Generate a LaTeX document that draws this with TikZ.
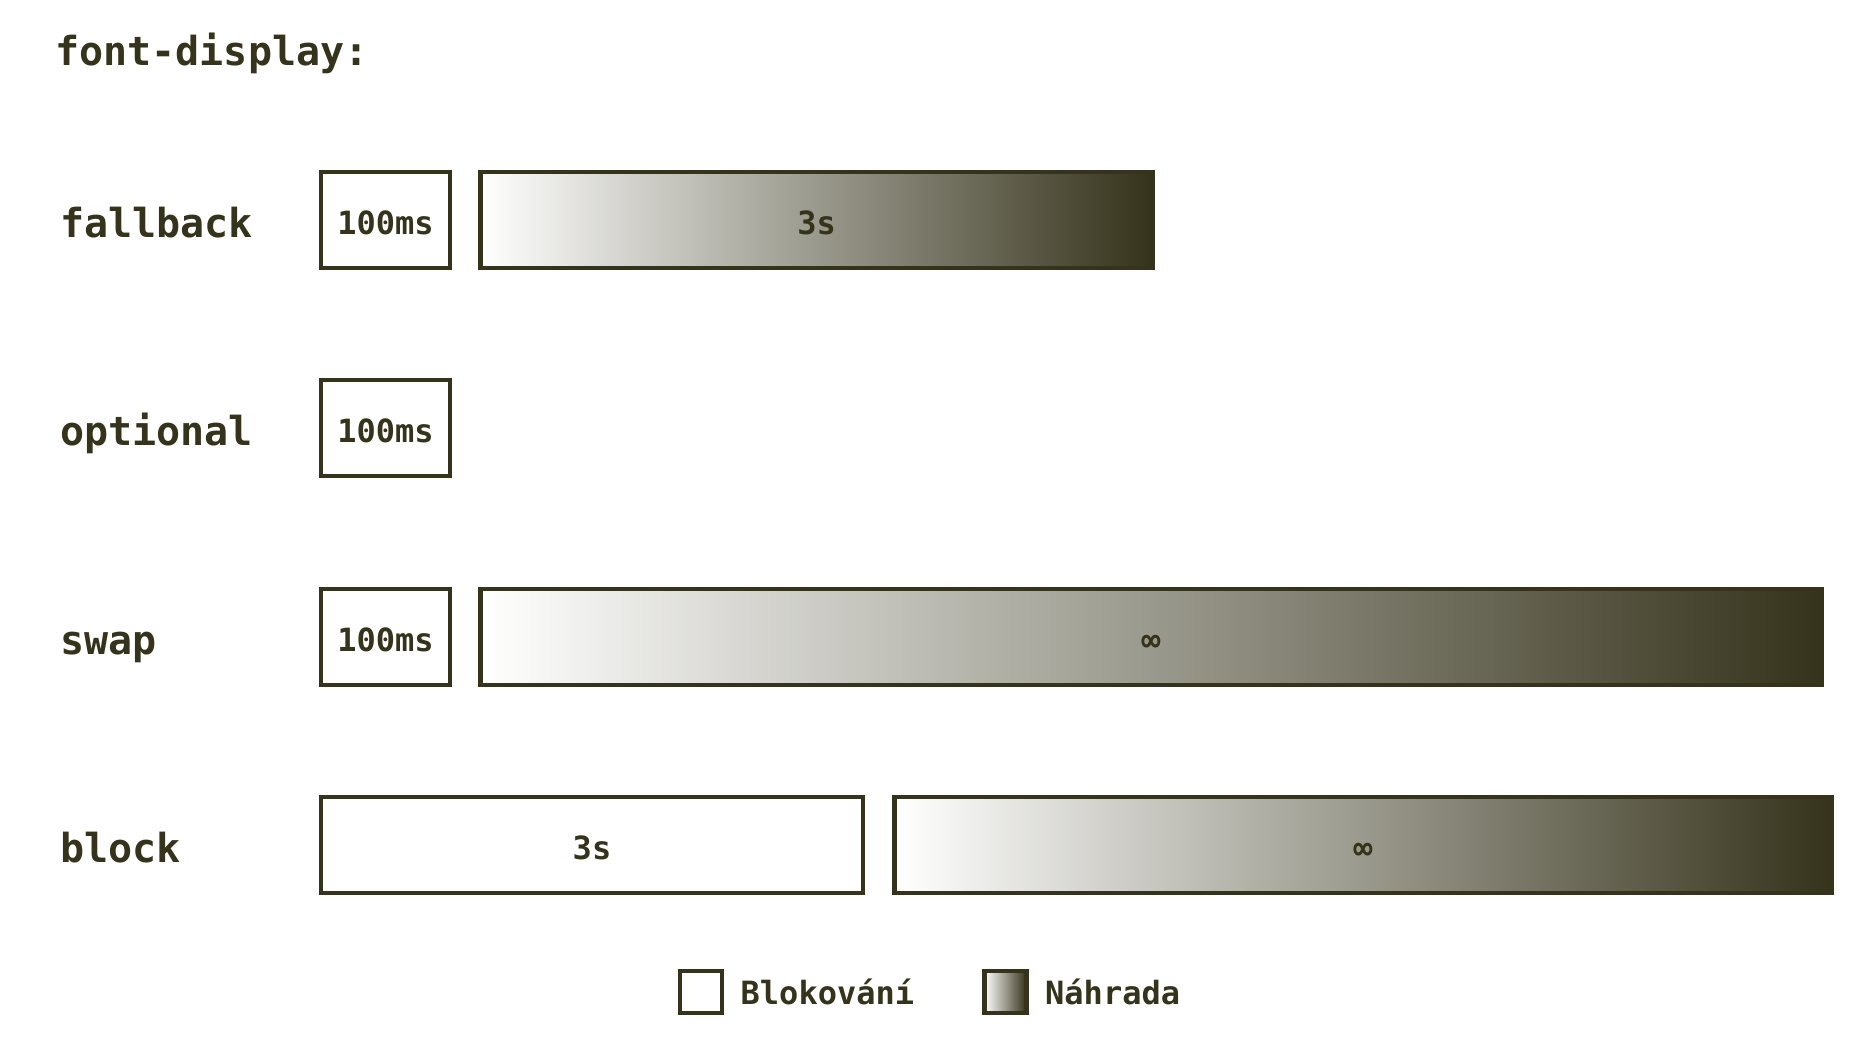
\documentclass[tikz,border=0pt]{standalone}
\usepackage{fontspec}
\setmonofont{DejaVu Sans Mono}
\usepackage{tikz}
\usetikzlibrary{positioning}
\definecolor{fdolive}{HTML}{35331B}

\begin{document}
\begin{tikzpicture}[
  x=0.5pt, y=-0.5pt,
  node distance=13pt,
  every node/.style={text=fdolive},
  rowlabel/.style={anchor=base west, inner sep=0pt, font=\ttfamily\bfseries\fontsize{20}{24}\selectfont},
  blockbox/.style={draw=fdolive, line width=2.3pt, fill=white, minimum height=48pt, inner sep=0pt, text height=14.5pt, text depth=0pt, font=\ttfamily\bfseries\fontsize{16}{19}\selectfont},
  swapbox/.style={blockbox, left color=white, right color=fdolive},
  legtext/.style={inner sep=0pt, font=\ttfamily\bfseries\fontsize{16}{19}\selectfont}
]
\useasboundingbox (0,0) rectangle (1866,1050);

% Heading
\node[rowlabel] (title) at (55,65) {font-display:};

% fallback
\node[rowlabel] (fallback) at (60,237) {fallback};
\node[blockbox, minimum width=64.5pt] (fallbackblock) at (385.5,220) {100ms};
\node[swapbox, minimum width=336pt, right=of fallbackblock] (fallbackswap) {3s};

% optional
\node[rowlabel] (optional) at (60,445) {optional};
\node[blockbox, minimum width=64.5pt] (optionalblock) at (385.5,428) {100ms};

% swap
\node[rowlabel] (swap) at (60,654) {swap};
\node[blockbox, minimum width=64.5pt] (swapblock) at (385.5,637) {100ms};
\node[swapbox, minimum width=670.5pt, right=of swapblock] (swapswap) {∞};

% block
\node[rowlabel] (block) at (60,862) {block};
\node[blockbox, minimum width=271pt] (blockblock) at (592,845) {3s};
\node[swapbox, minimum width=468.5pt, right=13.5pt of blockblock] (blockswap) {∞};

% Legend
\node[blockbox, minimum width=21pt, minimum height=21pt] (legblock) at (701,992) {};
\node[legtext, right=8pt of legblock] (legblocktext) {Blokování};
\node[swapbox, minimum width=21pt, minimum height=21pt] (legswap) at (1005.5,992) {};
\node[legtext, right=8pt of legswap] (legswaptext) {Náhrada};

\end{tikzpicture}
\end{document}
